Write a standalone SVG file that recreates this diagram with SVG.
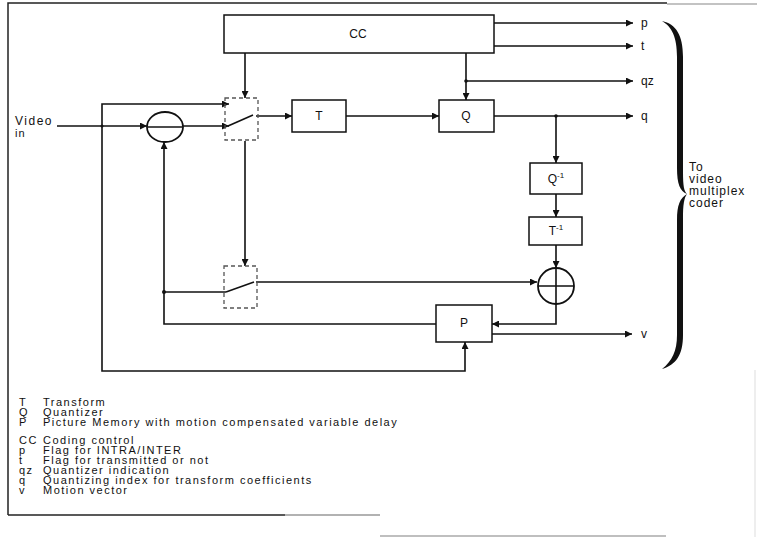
<svg xmlns="http://www.w3.org/2000/svg" width="757" height="537" viewBox="0 0 757 537">
<defs>
<marker id="ah" viewBox="0 0 10 10" refX="10" refY="5" markerWidth="9" markerHeight="7" markerUnits="userSpaceOnUse" orient="auto">
<path d="M0,0 L10,5 L0,10 z" fill="#111"/>
</marker>
<style>
text{font-family:"Liberation Sans",Arial,sans-serif;fill:#111}
.box{fill:#fff;stroke:#111;stroke-width:1.5}
.sw{fill:none;stroke:#555;stroke-width:1.3;stroke-dasharray:4,3}
.ln{fill:none;stroke:#111;stroke-width:1.6}
.arr{fill:none;stroke:#111;stroke-width:1.6;marker-end:url(#ah)}
.lbl{font-size:12px;text-anchor:middle;dominant-baseline:central}
.out{font-size:12px;dominant-baseline:central}
.leg{font-size:11px;letter-spacing:1.5px}
.frame{fill:none;stroke:#222;stroke-width:1.5}
</style>
</defs>
<rect width="757" height="537" fill="#fff"/>
<g id="frame">
<path class="frame" d="M8,515 V3 H667"/>
<path d="M667,4 H757" stroke="#888" stroke-width="1.2"/>
<path d="M8,515 H285" stroke="#222" stroke-width="1.5"/>
<path d="M285,515 H380" stroke="#999" stroke-width="1.5"/>
<path d="M380,536 H666" stroke="#aaa" stroke-width="1.5"/>
<path d="M755,370 V537" stroke="#ddd" stroke-width="1"/>
</g>
<g id="connectors">
<path class="arr" d="M494,23 H633"/>
<path class="arr" d="M494,46 H633"/>
<path class="arr" d="M466,53 V100"/>
<path class="arr" d="M466,81 H633"/>
<path class="arr" d="M494,116 H633"/>
<path class="arr" d="M556,116 V163"/>
<path class="arr" d="M556,194 V217"/>
<path class="arr" d="M556,245 V268"/>
<path class="arr" d="M556,304 V324 H492"/>
<path class="arr" d="M492,334 H632"/>
<path class="arr" d="M436,324 H164 V142"/>
<path class="ln" d="M164,292 H226"/>
<path class="arr" d="M256,282 H537"/>
<path class="arr" d="M256,116 H292"/>
<path class="arr" d="M346,116 H439"/>
<path class="arr" d="M245,53 V98"/>
<path class="arr" d="M245,141 V266"/>
<path class="arr" d="M57,126 H147"/>
<path class="arr" d="M183,126 H229"/>
<path class="arr" d="M102,126 V104 H229"/>
<path class="arr" d="M102,126 V371 H465 V342"/>
<circle cx="466" cy="81" r="1.8" fill="#111"/>
<circle cx="556" cy="116" r="1.8" fill="#111"/>
<circle cx="164" cy="292" r="2" fill="#111"/>
<circle cx="102" cy="126" r="1.5" fill="#111"/>
</g>
<g id="cc">
<rect class="box" x="224" y="15" width="270" height="38"/>
<text class="lbl" x="358" y="34">CC</text>
</g>
<g id="switch1">
<rect class="sw" x="225" y="98" width="33" height="42"/>
<path class="ln" d="M228,126 L253,115" stroke-width="2"/>
</g>
<g id="switch2">
<rect class="sw" x="224" y="266" width="33" height="42"/>
<path class="ln" d="M226,292 L254,282" stroke-width="2"/>
</g>
<g id="sub">
<ellipse cx="165" cy="127" rx="18" ry="15" fill="#fff" stroke="#111" stroke-width="1.8"/>
<path class="ln" d="M148,127 H182" stroke-width="2"/>
</g>
<g id="T">
<rect class="box" x="292" y="100" width="54" height="32"/>
<text class="lbl" x="319" y="116">T</text>
</g>
<g id="Q">
<rect class="box" x="439" y="100" width="55" height="32"/>
<text class="lbl" x="466" y="116">Q</text>
</g>
<g id="Qinv">
<rect class="box" x="530" y="163" width="52" height="31"/>
<text class="lbl" x="556" y="179">Q<tspan font-size="8" dy="-4">-1</tspan></text>
</g>
<g id="Tinv">
<rect class="box" x="529" y="217" width="53" height="28"/>
<text class="lbl" x="556" y="231">T<tspan font-size="8" dy="-4">-1</tspan></text>
</g>
<g id="add">
<circle cx="556" cy="286" r="18" fill="#fff" stroke="#111" stroke-width="1.8"/>
<path class="ln" d="M538,286 H574 M556,268 V304" stroke-width="1.8"/>
</g>
<g id="P">
<rect class="box" x="436" y="305" width="56" height="37"/>
<text class="lbl" x="464" y="323">P</text>
</g>
<g id="outputs">
<text class="out" x="641" y="23">p</text>
<text class="out" x="641" y="46">t</text>
<text class="out" x="641" y="81">qz</text>
<text class="out" x="641" y="116">q</text>
<text class="out" x="641" y="334">v</text>
</g>
<g id="input">
<text x="15" y="125" font-size="12" letter-spacing="1.5">Video</text>
<text x="15" y="137" font-size="11" letter-spacing="1">in</text>
</g>
<g id="brace">
<path d="M662,21 C676,24 683,35 683,57 L683,172 C683,186 684,191 687,194 C684,198 683,205 683,218 L683,335 C683,355 676,365 662,369 C672,361 677,351 677,335 L677,220 C677,205 680,198 687,194 C680,191 677,184 677,168 L677,57 C677,37 672,27 662,21 Z" fill="#111"/>
<text x="689" y="171" font-size="12" letter-spacing="1">To</text>
<text x="689" y="183" font-size="12" letter-spacing="1">video</text>
<text x="689" y="195" font-size="12" letter-spacing="1">multiplex</text>
<text x="689" y="207" font-size="12" letter-spacing="1">coder</text>
</g>
<g id="legend">
<text class="leg" x="19" y="406">T</text><text class="leg" x="43" y="406">Transform</text>
<text class="leg" x="19" y="416">Q</text><text class="leg" x="43" y="416">Quantizer</text>
<text class="leg" x="19" y="426">P</text><text class="leg" x="43" y="426">Picture Memory with motion compensated variable delay</text>
<text class="leg" x="19" y="444">CC</text><text class="leg" x="43" y="444">Coding control</text>
<text class="leg" x="19" y="454">p</text><text class="leg" x="43" y="454">Flag for INTRA/INTER</text>
<text class="leg" x="19" y="464">t</text><text class="leg" x="43" y="464">Flag for transmitted or not</text>
<text class="leg" x="19" y="474">qz</text><text class="leg" x="43" y="474">Quantizer indication</text>
<text class="leg" x="19" y="484">q</text><text class="leg" x="43" y="484">Quantizing index for transform coefficients</text>
<text class="leg" x="19" y="494">v</text><text class="leg" x="43" y="494">Motion vector</text>
</g>
</svg>
